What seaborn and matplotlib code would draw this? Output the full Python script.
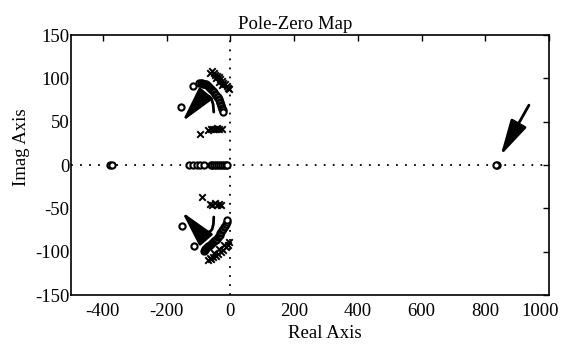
import matplotlib
matplotlib.use("Agg")
import matplotlib.pyplot as plt
import matplotlib.transforms as mtransforms
import seaborn as sns
import pandas as pd

# ---- data ----
zero_re = [-378, -372, -130, -118, -106, -94, -82,
           -62, -56, -50, -44, -38, -32, -26, -20, -14, -9,
           -117, -155,
           -97, -93, -90, -86, -83, -79, -76, -73, -70, -66, -63, -60, -57, -54, -51,
           -48, -45, -42, -40, -37, -35, -33, -31, -29, -28, -26, -25, -24, -23,
           -152, -113,
           -84, -81, -78, -75, -72, -69, -66, -63, -60, -57, -54, -51, -48, -45, -42,
           -39, -36, -33, -31, -28, -26, -23, -20, -17, -14, -11, -9,
           837, 833]
zero_im = [0, 0, 0, 0, 0, 0, 0,
           0, 0, 0, 0, 0, 0, 0, 0, 0, 0,
           91, 67,
           95, 95, 94.5, 94, 94, 93.5, 93, 92, 91, 90, 89, 88, 87, 85.5, 84,
           82.5, 81, 79, 78, 76.5, 75, 73, 71, 69.5, 68, 66, 65, 63, 61,
           -70, -94,
           -99, -98, -97, -96, -95, -94, -93, -92, -91, -90, -89, -88, -87, -86, -85,
           -83.5, -82, -80.5, -79, -77, -75.5, -73.5, -72, -70, -68, -66, -64,
           0, 0]
pole_re = [-65, -57, -52, -47, -42, -37, -32, -27, -22, -17, -12, -7, -4, -45, -35, -25,
           -96, -69, -62, -55, -48, -41, -34, -27,
           -89, -63, -56, -49, -42, -35, -28,
           -63, -70, -62, -54, -46, -38, -30, -22, -14, -8, -4, -50, -35, -20]
pole_im = [106, 108, 106, 104, 103, 101, 99, 97, 95, 93, 91, 89, 88, 100, 96, 92,
           36, 40, 41, 42, 41, 43, 42, 41,
           -37, -45, -46, -44, -46, -45, -46,
           -107, -110, -108, -106, -105, -103, -100, -98, -95, -92, -89, -101, -97, -92]

# annotation arrows: curved shaft paths, then the arrow head tip
arrow_shafts = [
    ([-52, -54, -59, -66, -75, -85, -94], [61, 70, 76, 79, 80, 78, 75]),
    ([-52, -53, -57, -64, -78, -94, -105], [-60, -68, -74, -77, -78, -77, -74]),
    ([937], [69]),
]
arrow_tips = [(-151, 50), (-152, -54), (848, 11)]
x_ticks = [-400, -200, 0, 200, 400, 600, 800, 1000]
y_ticks = [-150, -100, -50, 0, 50, 100, 150]

sns.set_theme(style="white")
plt.rcParams["font.family"] = ["Liberation Serif", "DejaVu Serif"]
plt.rcParams["axes.unicode_minus"] = False

fig = plt.figure(figsize=(5.66, 3.47), dpi=100)
ax = fig.add_axes([71 / 566, 52 / 347, 478 / 566, 260 / 347])

ax.axhline(0, color="black", ls=(0, (1, 4)), lw=1.3, zorder=1)
ax.axvline(0, color="black", ls=(0, (1, 4)), lw=1.3, zorder=1)

dz = pd.DataFrame({"re": zero_re, "im": zero_im})
dp = pd.DataFrame({"re": pole_re, "im": pole_im})
sns.scatterplot(data=dz, x="re", y="im", ax=ax, marker="o", s=20,
                facecolor="white", edgecolor="black", linewidth=1.5, zorder=3)
sns.scatterplot(data=dp, x="re", y="im", ax=ax, marker="x", s=22,
                color="black", linewidth=1.4, zorder=3)

for (sx, sy), (hx, hy) in zip(arrow_shafts, arrow_tips):
    if len(sx) > 1:
        ax.plot(sx, sy, color="black", lw=2, solid_capstyle="round", zorder=4)
    ax.annotate("", xy=(hx, hy), xytext=(sx[-1], sy[-1]),
                arrowprops=dict(arrowstyle="-|>,head_length=1.1,head_width=0.27",
                                mutation_scale=20, color="black", lw=2,
                                shrinkA=0, shrinkB=0),
                zorder=4)

ax.set_xlim(-500, 1000)
ax.set_ylim(-150, 150)
ax.set_xticks(x_ticks)
ax.set_yticks(y_ticks)
ax.tick_params(direction="in", length=4, width=1, colors="black",
               labelsize=13.5, top=True, right=True)
ax.tick_params(axis="x", pad=6)
ax.tick_params(axis="y", pad=1)
for s in ax.spines.values():
    s.set_visible(True)
    s.set_color("black")
    s.set_linewidth(1.2)

last = ax.get_xticklabels()[-1]
last.set_transform(last.get_transform() +
                   mtransforms.ScaledTranslation(-9 / 100, 0, fig.dpi_scale_trans))

ax.set_xlabel("Real Axis", fontsize=13.5, color="black", labelpad=3, x=0.53)
ax.set_ylabel("Imag Axis", fontsize=13.5, color="black", labelpad=4, y=0.57)
ax.set_title("Pole-Zero Map", fontsize=13.5, color="black", pad=4, x=0.47)

fig.savefig("out.png", dpi=100, facecolor="white")
